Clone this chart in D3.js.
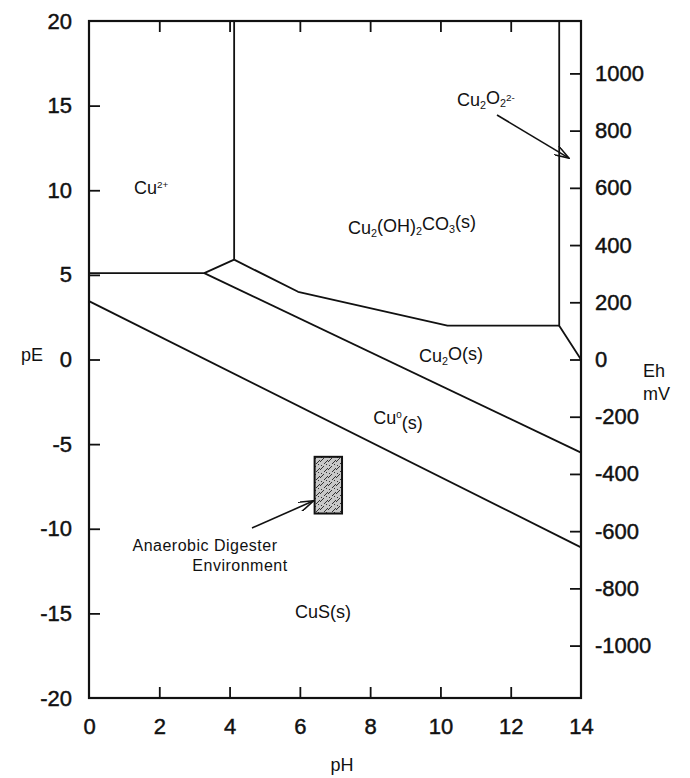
<!DOCTYPE html>
<html lang="en">
  <head>
    <meta charset="UTF-8"/>
    <title>Cu pE-pH diagram</title>
    <script src="https://d3js.org/d3.v7.min.js"></script>
    <style>
      body { margin: 0; background: #fff; }
      text { font-family: 'Liberation Sans', Arial, sans-serif; fill: #111; }
      .tick text { font-size: 22px; stroke: #111; stroke-width: 0.45px; }
      .tick line { stroke: #111; stroke-width: 1.8px; }
      .boundary { fill: none; stroke: #111; stroke-width: 1.8px; stroke-linejoin: round; }
      .frame { fill: none; stroke: #111; stroke-width: 2.2px; }
      .region { font-size: 18px; }
      .note { font-size: 16px; letter-spacing: 0.5px; }
      .axis-label { font-size: 18px; }
    </style>
  </head>
  <body>
    <script type="text/javascript">

      // tick values
      const pHTicks = [0, 2, 4, 6, 8, 10, 12, 14]
      const pETicks = [20, 15, 10, 5, 0, -5, -10, -15, -20]
      const ehTicks = [1000, 800, 600, 400, 200, 0, -200, -400, -600, -800, -1000]
      const mVperPE = 59.16

      // stability boundaries, [pH, pE]
      const cu2Malachite = [[4.13, 20], [4.13, 5.9]]
      const cu2Cu2O = [[0, 5.1], [3.28, 5.1], [4.13, 5.9]]
      const malachiteCu2O = [[4.13, 5.9], [5.95, 4.0], [10.2, 2.0], [13.38, 2.0]]
      const malachiteCu2O2 = [[13.38, 20], [13.38, 2.0], [14, 0]]
      const cu2OCu = [[3.28, 5.1], [14, -5.5]]
      const cuCuS = [[0, 3.45], [14, -11.1]]
      const boundaries = [cu2Malachite, cu2Cu2O, malachiteCu2O, malachiteCu2O2, cu2OCu, cuCuS]

      // anaerobic digester window
      const digesterPH = [6.42, 7.2]
      const digesterPE = [-5.75, -9.1]

      const width = 690, height = 778
      const margin = {top: 21, right: 110, bottom: 80, left: 89}

      const x = d3.scaleLinear().domain([0, 14]).range([margin.left, width - margin.right + 1])
      const y = d3.scaleLinear().domain([-20, 20]).range([height - margin.bottom, margin.top])
      const yEh = d3.scaleLinear().domain([-20 * mVperPE, 20 * mVperPE]).range(y.range())

      const svg = d3.select("body").append("svg")
          .attr("width", width)
          .attr("height", height)

      const defs = svg.append("defs")

      defs.append("marker")
          .attr("id", "arrow")
          .attr("viewBox", "0 0 16 10")
          .attr("refX", 15).attr("refY", 5)
          .attr("markerWidth", 16).attr("markerHeight", 10)
          .attr("markerUnits", "userSpaceOnUse")
          .attr("orient", "auto")
        .append("path")
          .attr("d", "M0,0 L15,5 L0,10")
          .attr("fill", "none")
          .attr("stroke", "#111")
          .attr("stroke-width", 1.6)

      const pat = defs.append("pattern")
          .attr("id", "speckle")
          .attr("patternUnits", "userSpaceOnUse")
          .attr("width", 8).attr("height", 8)
      pat.append("rect").attr("width", 8).attr("height", 8).attr("fill", "#c8c8c8")
      pat.append("path")
          .attr("d", "M0,6 L4,2 M4,8 L8,4 M1,2 L2,1 M6,1 L7,0")
          .attr("stroke", "#333").attr("stroke-width", 1)

      // axes
      svg.append("g")
          .attr("transform", `translate(${x(0)},0)`)
          .call(d3.axisLeft(y).tickValues(pETicks).tickSizeInner(-11).tickSizeOuter(0).tickPadding(17)
              .tickFormat(d => d < 0 ? "-" + Math.abs(d) : d))
          .call(g => g.select(".domain").remove())
          .call(g => g.selectAll(".tick line").filter(d => Math.abs(d) === 20).remove())

      svg.append("g")
          .attr("transform", `translate(0,${y(-20)})`)
          .call(d3.axisBottom(x).tickValues(pHTicks).tickSizeInner(-11).tickSizeOuter(0).tickPadding(20))
          .call(g => g.select(".domain").remove())
          .call(g => g.selectAll(".tick line").filter(d => d === 0 || d === 14).remove())

      svg.append("g")
          .attr("transform", `translate(0,${y(20)})`)
          .call(d3.axisTop(x).tickValues(pHTicks.slice(1, -1)).tickSizeInner(-11).tickSizeOuter(0).tickFormat(""))
          .call(g => g.select(".domain").remove())

      svg.append("g")
          .attr("transform", `translate(${x(14)},0)`)
          .call(d3.axisRight(yEh).tickValues(ehTicks).tickSizeInner(-11).tickSizeOuter(0).tickPadding(14)
              .tickFormat(d => d < 0 ? "-" + Math.abs(d) : d))
          .call(g => g.select(".domain").remove())

      svg.append("rect")
          .attr("class", "frame")
          .attr("x", x(0)).attr("y", y(20))
          .attr("width", x(14) - x(0)).attr("height", y(-20) - y(20))

      // boundaries
      const line = d3.line().x(d => x(d[0])).y(d => y(d[1]))
      svg.append("g").selectAll("path")
          .data(boundaries)
          .join("path")
          .attr("class", "boundary")
          .attr("d", line)

      // digester box
      svg.append("rect")
          .attr("x", x(digesterPH[0])).attr("y", y(digesterPE[0]))
          .attr("width", x(digesterPH[1]) - x(digesterPH[0]))
          .attr("height", y(digesterPE[1]) - y(digesterPE[0]))
          .attr("fill", "url(#speckle)")
          .attr("stroke", "#111").attr("stroke-width", 2)

      svg.append("line")
          .attr("x1", 252).attr("y1", 528)
          .attr("x2", x(digesterPH[0]) - 1).attr("y2", y(-8.35))
          .attr("stroke", "#111").attr("stroke-width", 1.6)
          .attr("marker-end", "url(#arrow)")

      svg.append("line")
          .attr("x1", 497).attr("y1", 115)
          .attr("x2", x(14) - 12).attr("y2", y(11.9))
          .attr("stroke", "#111").attr("stroke-width", 1.6)
          .attr("marker-end", "url(#arrow)")

      // region labels
      const label = (px, py, parts, cls = "region", anchor = "middle") => {
          const t = svg.append("text").attr("class", cls)
              .attr("x", px).attr("y", py).attr("text-anchor", anchor)
          parts.forEach(([s, k]) => {
              const ts = t.append("tspan").text(s)
              if (k === "sub") ts.attr("font-size", "0.6em").attr("dy", "0.3em")
              if (k === "sup") ts.attr("font-size", "0.55em").attr("dy", "-0.6em")
              if (k === "base-sub") ts.attr("dy", "-0.3em")
              if (k === "base-sup") ts.attr("dy", "0.6em")
          })
          return t
      }

      label(134, 194, [["Cu"], ["2+", "sup"]], "region", "start")
      label(412, 234, [["Cu"], ["2", "sub"], ["(OH)", "base-sub"], ["2", "sub"], ["CO", "base-sub"], ["3", "sub"], ["(s)", "base-sub"]])
      label(457, 106, [["Cu"], ["2", "sub"], ["O", "base-sub"], ["2", "sub"], ["2-", "sup"]], "region", "start")
      label(451, 362, [["Cu"], ["2", "sub"], ["O(s)", "base-sub"]])
      label(398, 424, [["Cu"], ["0", "sup"], ["(s)", "base-sup"]])
      label(323, 618, [["CuS(s)"]])

      svg.append("text").attr("class", "note").attr("text-anchor", "middle")
          .attr("x", 205).attr("y", 551).text("Anaerobic Digester")
      svg.append("text").attr("class", "note").attr("text-anchor", "middle")
          .attr("x", 240).attr("y", 571).text("Environment")

      // axis labels
      svg.append("text").attr("class", "axis-label").attr("x", 21).attr("y", 361).text("pE")
      svg.append("text").attr("class", "axis-label").attr("text-anchor", "middle")
          .attr("x", 342).attr("y", 771).text("pH")
      svg.append("text").attr("class", "axis-label").attr("x", 643).attr("y", 377).text("Eh")
      svg.append("text").attr("class", "axis-label").attr("x", 643).attr("y", 400).text("mV")

    </script>
  </body>
</html>
